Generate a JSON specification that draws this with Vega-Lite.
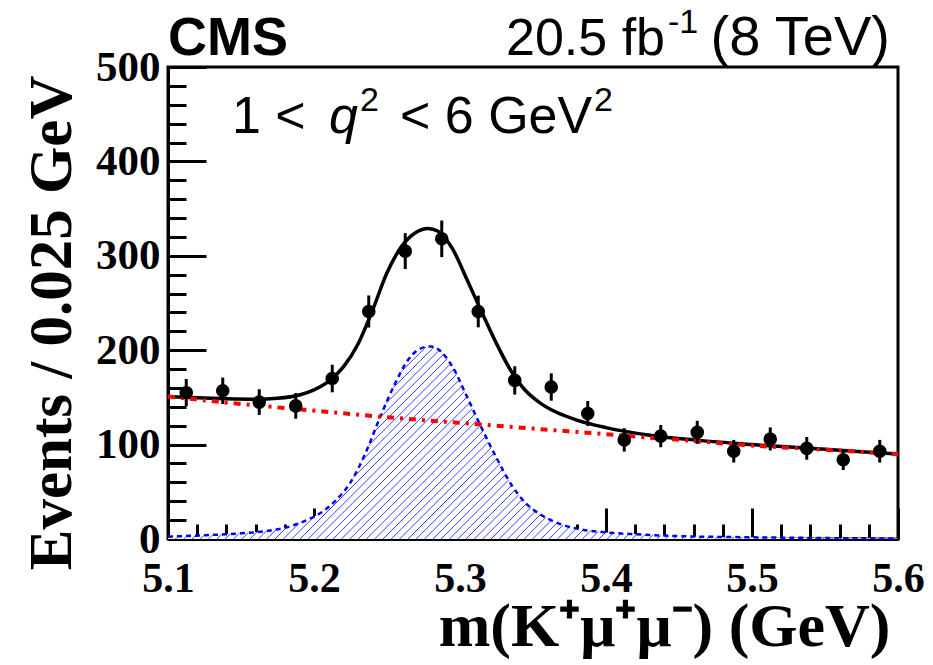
{
  "$schema": "https://vega.github.io/schema/vega-lite/v6.json",
  "width": 730,
  "height": 472,
  "autosize": "none",
  "padding": {"left": 168, "top": 67, "right": 35, "bottom": 126},
  "background": "white",
  "config": {"view": {"stroke": "black", "strokeWidth": 3}},
  "datasets": {
    "pts": [
      {"m": 5.1125, "v": 155, "lo": 140.5, "hi": 169.5},
      {"m": 5.1375, "v": 157, "lo": 143, "hi": 171},
      {"m": 5.1625, "v": 145, "lo": 131.4, "hi": 158.6},
      {"m": 5.1875, "v": 141, "lo": 127.4, "hi": 154.6},
      {"m": 5.2125, "v": 170, "lo": 155.4, "hi": 184.6},
      {"m": 5.2375, "v": 241, "lo": 224, "hi": 258},
      {"m": 5.2625, "v": 305, "lo": 286, "hi": 324},
      {"m": 5.2875, "v": 318, "lo": 298.6, "hi": 337.4},
      {"m": 5.3125, "v": 241, "lo": 224.2, "hi": 257.8},
      {"m": 5.3375, "v": 168, "lo": 153, "hi": 183},
      {"m": 5.3625, "v": 161, "lo": 146.5, "hi": 175.5},
      {"m": 5.3875, "v": 133, "lo": 119.8, "hi": 146.2},
      {"m": 5.4125, "v": 105, "lo": 92.6, "hi": 117.4},
      {"m": 5.4375, "v": 109, "lo": 97.2, "hi": 120.8},
      {"m": 5.4625, "v": 113, "lo": 100.8, "hi": 125.2},
      {"m": 5.4875, "v": 93, "lo": 81, "hi": 105},
      {"m": 5.5125, "v": 106, "lo": 93.8, "hi": 118.2},
      {"m": 5.5375, "v": 96, "lo": 84, "hi": 108},
      {"m": 5.5625, "v": 84, "lo": 73, "hi": 95},
      {"m": 5.5875, "v": 93, "lo": 81, "hi": 105}
    ],
    "sig": [
      {"m": 5.1, "v": 2.5}, {"m": 5.125, "v": 4}, {"m": 5.15, "v": 6}, {"m": 5.17, "v": 9},
      {"m": 5.185, "v": 14}, {"m": 5.195, "v": 20}, {"m": 5.205, "v": 28}, {"m": 5.215, "v": 41},
      {"m": 5.225, "v": 60}, {"m": 5.235, "v": 90}, {"m": 5.245, "v": 128}, {"m": 5.255, "v": 163},
      {"m": 5.265, "v": 191}, {"m": 5.275, "v": 203}, {"m": 5.28, "v": 204}, {"m": 5.285, "v": 201},
      {"m": 5.295, "v": 182}, {"m": 5.305, "v": 150}, {"m": 5.315, "v": 117}, {"m": 5.325, "v": 86},
      {"m": 5.335, "v": 58}, {"m": 5.345, "v": 38}, {"m": 5.355, "v": 26}, {"m": 5.365, "v": 18},
      {"m": 5.38, "v": 11}, {"m": 5.4, "v": 7}, {"m": 5.42, "v": 5}, {"m": 5.45, "v": 3},
      {"m": 5.5, "v": 1.8}, {"m": 5.55, "v": 1}, {"m": 5.6, "v": 0.5}
    ],
    "bkg": [
      {"m": 5.1, "v": 151}, {"m": 5.15, "v": 143}, {"m": 5.2, "v": 136}, {"m": 5.25, "v": 129},
      {"m": 5.3, "v": 123}, {"m": 5.35, "v": 117}, {"m": 5.4, "v": 111}, {"m": 5.45, "v": 105},
      {"m": 5.5, "v": 99}, {"m": 5.55, "v": 94.5}, {"m": 5.6, "v": 90}
    ],
    "tot": [
      {"m": 5.1, "v": 151}, {"m": 5.12, "v": 149.5}, {"m": 5.14, "v": 148.5}, {"m": 5.16, "v": 148},
      {"m": 5.175, "v": 149}, {"m": 5.19, "v": 152.5}, {"m": 5.2, "v": 158}, {"m": 5.21, "v": 167},
      {"m": 5.22, "v": 182}, {"m": 5.23, "v": 206}, {"m": 5.24, "v": 242}, {"m": 5.25, "v": 282},
      {"m": 5.26, "v": 310}, {"m": 5.27, "v": 325}, {"m": 5.278, "v": 329}, {"m": 5.285, "v": 326},
      {"m": 5.295, "v": 307}, {"m": 5.305, "v": 274}, {"m": 5.315, "v": 240}, {"m": 5.325, "v": 207},
      {"m": 5.335, "v": 178}, {"m": 5.345, "v": 157}, {"m": 5.355, "v": 144}, {"m": 5.365, "v": 135},
      {"m": 5.38, "v": 126}, {"m": 5.4, "v": 118}, {"m": 5.43, "v": 110}, {"m": 5.46, "v": 105},
      {"m": 5.5, "v": 100}, {"m": 5.55, "v": 95}, {"m": 5.6, "v": 90}
    ]
  },
  "layer": [
    {
      "data": {"name": "sig"},
      "mark": {
        "type": "area", "interpolate": "monotone", "fillOpacity": 1,
        "fill": {
          "gradient": "linear", "x1": 0, "y1": 0, "x2": 1.1818, "y2": 0.3124,
          "stops": [
            {"offset": 0, "color": "#fff"},
            {"offset": 0.198, "color": "#fff"}, {"offset": 0.199, "color": "#2233ff"}, {"offset": 0.2, "color": "#fff"},
            {"offset": 0.207, "color": "#fff"}, {"offset": 0.208, "color": "#2233ff"}, {"offset": 0.209, "color": "#fff"},
            {"offset": 0.216, "color": "#fff"}, {"offset": 0.217, "color": "#2233ff"}, {"offset": 0.218, "color": "#fff"},
            {"offset": 0.225, "color": "#fff"}, {"offset": 0.226, "color": "#2233ff"}, {"offset": 0.227, "color": "#fff"},
            {"offset": 0.234, "color": "#fff"}, {"offset": 0.235, "color": "#2233ff"}, {"offset": 0.236, "color": "#fff"},
            {"offset": 0.243, "color": "#fff"}, {"offset": 0.244, "color": "#2233ff"}, {"offset": 0.245, "color": "#fff"},
            {"offset": 0.252, "color": "#fff"}, {"offset": 0.253, "color": "#2233ff"}, {"offset": 0.254, "color": "#fff"},
            {"offset": 0.261, "color": "#fff"}, {"offset": 0.262, "color": "#2233ff"}, {"offset": 0.263, "color": "#fff"},
            {"offset": 0.27, "color": "#fff"}, {"offset": 0.271, "color": "#2233ff"}, {"offset": 0.272, "color": "#fff"},
            {"offset": 0.279, "color": "#fff"}, {"offset": 0.28, "color": "#2233ff"}, {"offset": 0.281, "color": "#fff"},
            {"offset": 0.288, "color": "#fff"}, {"offset": 0.289, "color": "#2233ff"}, {"offset": 0.29, "color": "#fff"},
            {"offset": 0.297, "color": "#fff"}, {"offset": 0.298, "color": "#2233ff"}, {"offset": 0.299, "color": "#fff"},
            {"offset": 0.306, "color": "#fff"}, {"offset": 0.307, "color": "#2233ff"}, {"offset": 0.308, "color": "#fff"},
            {"offset": 0.315, "color": "#fff"}, {"offset": 0.316, "color": "#2233ff"}, {"offset": 0.317, "color": "#fff"},
            {"offset": 0.324, "color": "#fff"}, {"offset": 0.325, "color": "#2233ff"}, {"offset": 0.326, "color": "#fff"},
            {"offset": 0.333, "color": "#fff"}, {"offset": 0.334, "color": "#2233ff"}, {"offset": 0.335, "color": "#fff"},
            {"offset": 0.342, "color": "#fff"}, {"offset": 0.343, "color": "#2233ff"}, {"offset": 0.344, "color": "#fff"},
            {"offset": 0.351, "color": "#fff"}, {"offset": 0.352, "color": "#2233ff"}, {"offset": 0.353, "color": "#fff"},
            {"offset": 0.36, "color": "#fff"}, {"offset": 0.361, "color": "#2233ff"}, {"offset": 0.362, "color": "#fff"},
            {"offset": 0.369, "color": "#fff"}, {"offset": 0.37, "color": "#2233ff"}, {"offset": 0.371, "color": "#fff"},
            {"offset": 0.378, "color": "#fff"}, {"offset": 0.379, "color": "#2233ff"}, {"offset": 0.38, "color": "#fff"},
            {"offset": 0.387, "color": "#fff"}, {"offset": 0.388, "color": "#2233ff"}, {"offset": 0.389, "color": "#fff"},
            {"offset": 0.396, "color": "#fff"}, {"offset": 0.397, "color": "#2233ff"}, {"offset": 0.398, "color": "#fff"},
            {"offset": 0.405, "color": "#fff"}, {"offset": 0.406, "color": "#2233ff"}, {"offset": 0.407, "color": "#fff"},
            {"offset": 0.414, "color": "#fff"}, {"offset": 0.415, "color": "#2233ff"}, {"offset": 0.416, "color": "#fff"},
            {"offset": 0.423, "color": "#fff"}, {"offset": 0.424, "color": "#2233ff"}, {"offset": 0.425, "color": "#fff"},
            {"offset": 0.432, "color": "#fff"}, {"offset": 0.433, "color": "#2233ff"}, {"offset": 0.434, "color": "#fff"},
            {"offset": 0.441, "color": "#fff"}, {"offset": 0.442, "color": "#2233ff"}, {"offset": 0.443, "color": "#fff"},
            {"offset": 0.45, "color": "#fff"}, {"offset": 0.451, "color": "#2233ff"}, {"offset": 0.452, "color": "#fff"},
            {"offset": 0.459, "color": "#fff"}, {"offset": 0.46, "color": "#2233ff"}, {"offset": 0.461, "color": "#fff"},
            {"offset": 0.468, "color": "#fff"}, {"offset": 0.469, "color": "#2233ff"}, {"offset": 0.47, "color": "#fff"},
            {"offset": 0.477, "color": "#fff"}, {"offset": 0.478, "color": "#2233ff"}, {"offset": 0.479, "color": "#fff"},
            {"offset": 0.486, "color": "#fff"}, {"offset": 0.487, "color": "#2233ff"}, {"offset": 0.488, "color": "#fff"},
            {"offset": 0.495, "color": "#fff"}, {"offset": 0.496, "color": "#2233ff"}, {"offset": 0.497, "color": "#fff"},
            {"offset": 0.504, "color": "#fff"}, {"offset": 0.505, "color": "#2233ff"}, {"offset": 0.506, "color": "#fff"},
            {"offset": 0.513, "color": "#fff"}, {"offset": 0.514, "color": "#2233ff"}, {"offset": 0.515, "color": "#fff"},
            {"offset": 0.522, "color": "#fff"}, {"offset": 0.523, "color": "#2233ff"}, {"offset": 0.524, "color": "#fff"},
            {"offset": 0.531, "color": "#fff"}, {"offset": 0.532, "color": "#2233ff"}, {"offset": 0.533, "color": "#fff"},
            {"offset": 0.54, "color": "#fff"}, {"offset": 0.541, "color": "#2233ff"}, {"offset": 0.542, "color": "#fff"},
            {"offset": 0.549, "color": "#fff"}, {"offset": 0.55, "color": "#2233ff"}, {"offset": 0.551, "color": "#fff"},
            {"offset": 0.558, "color": "#fff"}, {"offset": 0.559, "color": "#2233ff"}, {"offset": 0.56, "color": "#fff"},
            {"offset": 0.567, "color": "#fff"}, {"offset": 0.568, "color": "#2233ff"}, {"offset": 0.569, "color": "#fff"},
            {"offset": 0.576, "color": "#fff"}, {"offset": 0.577, "color": "#2233ff"}, {"offset": 0.578, "color": "#fff"},
            {"offset": 0.585, "color": "#fff"}, {"offset": 0.586, "color": "#2233ff"}, {"offset": 0.587, "color": "#fff"},
            {"offset": 0.594, "color": "#fff"}, {"offset": 0.595, "color": "#2233ff"}, {"offset": 0.596, "color": "#fff"},
            {"offset": 0.603, "color": "#fff"}, {"offset": 0.604, "color": "#2233ff"}, {"offset": 0.605, "color": "#fff"},
            {"offset": 0.612, "color": "#fff"}, {"offset": 0.613, "color": "#2233ff"}, {"offset": 0.614, "color": "#fff"},
            {"offset": 0.621, "color": "#fff"}, {"offset": 0.622, "color": "#2233ff"}, {"offset": 0.623, "color": "#fff"},
            {"offset": 0.63, "color": "#fff"}, {"offset": 0.631, "color": "#2233ff"}, {"offset": 0.632, "color": "#fff"},
            {"offset": 0.639, "color": "#fff"}, {"offset": 0.64, "color": "#2233ff"}, {"offset": 0.641, "color": "#fff"},
            {"offset": 0.648, "color": "#fff"}, {"offset": 0.649, "color": "#2233ff"}, {"offset": 0.65, "color": "#fff"},
            {"offset": 0.657, "color": "#fff"}, {"offset": 0.658, "color": "#2233ff"}, {"offset": 0.659, "color": "#fff"},
            {"offset": 0.666, "color": "#fff"}, {"offset": 0.667, "color": "#2233ff"}, {"offset": 0.668, "color": "#fff"},
            {"offset": 0.675, "color": "#fff"}, {"offset": 0.676, "color": "#2233ff"}, {"offset": 0.677, "color": "#fff"},
            {"offset": 0.684, "color": "#fff"}, {"offset": 0.685, "color": "#2233ff"}, {"offset": 0.686, "color": "#fff"},
            {"offset": 0.693, "color": "#fff"}, {"offset": 0.694, "color": "#2233ff"}, {"offset": 0.695, "color": "#fff"},
            {"offset": 0.702, "color": "#fff"}, {"offset": 0.703, "color": "#2233ff"}, {"offset": 0.704, "color": "#fff"},
            {"offset": 0.711, "color": "#fff"}, {"offset": 0.712, "color": "#2233ff"}, {"offset": 0.713, "color": "#fff"},
            {"offset": 0.72, "color": "#fff"}, {"offset": 0.721, "color": "#2233ff"}, {"offset": 0.722, "color": "#fff"},
            {"offset": 0.729, "color": "#fff"}, {"offset": 0.73, "color": "#2233ff"}, {"offset": 0.731, "color": "#fff"},
            {"offset": 0.738, "color": "#fff"}, {"offset": 0.739, "color": "#2233ff"}, {"offset": 0.74, "color": "#fff"},
            {"offset": 0.747, "color": "#fff"}, {"offset": 0.748, "color": "#2233ff"}, {"offset": 0.749, "color": "#fff"},
            {"offset": 0.756, "color": "#fff"}, {"offset": 0.757, "color": "#2233ff"}, {"offset": 0.758, "color": "#fff"},
            {"offset": 0.765, "color": "#fff"}, {"offset": 0.766, "color": "#2233ff"}, {"offset": 0.767, "color": "#fff"},
            {"offset": 0.774, "color": "#fff"}, {"offset": 0.775, "color": "#2233ff"}, {"offset": 0.776, "color": "#fff"},
            {"offset": 0.783, "color": "#fff"}, {"offset": 0.784, "color": "#2233ff"}, {"offset": 0.785, "color": "#fff"},
            {"offset": 0.792, "color": "#fff"}, {"offset": 0.793, "color": "#2233ff"}, {"offset": 0.794, "color": "#fff"},
            {"offset": 0.801, "color": "#fff"}, {"offset": 0.802, "color": "#2233ff"}, {"offset": 0.803, "color": "#fff"},
            {"offset": 0.81, "color": "#fff"}, {"offset": 0.811, "color": "#2233ff"}, {"offset": 0.812, "color": "#fff"},
            {"offset": 0.819, "color": "#fff"}, {"offset": 0.82, "color": "#2233ff"}, {"offset": 0.821, "color": "#fff"},
            {"offset": 0.828, "color": "#fff"}, {"offset": 0.829, "color": "#2233ff"}, {"offset": 0.83, "color": "#fff"},
            {"offset": 0.837, "color": "#fff"}, {"offset": 0.838, "color": "#2233ff"}, {"offset": 0.839, "color": "#fff"},
            {"offset": 0.846, "color": "#fff"}, {"offset": 0.847, "color": "#2233ff"}, {"offset": 0.848, "color": "#fff"},
            {"offset": 0.855, "color": "#fff"}, {"offset": 0.856, "color": "#2233ff"}, {"offset": 0.857, "color": "#fff"},
            {"offset": 0.864, "color": "#fff"}, {"offset": 0.865, "color": "#2233ff"}, {"offset": 0.866, "color": "#fff"},
            {"offset": 0.873, "color": "#fff"}, {"offset": 0.874, "color": "#2233ff"}, {"offset": 0.875, "color": "#fff"},
            {"offset": 0.882, "color": "#fff"}, {"offset": 0.883, "color": "#2233ff"}, {"offset": 0.884, "color": "#fff"},
            {"offset": 0.891, "color": "#fff"}, {"offset": 0.892, "color": "#2233ff"}, {"offset": 0.893, "color": "#fff"},
            {"offset": 0.9, "color": "#fff"}, {"offset": 0.901, "color": "#2233ff"}, {"offset": 0.902, "color": "#fff"},
            {"offset": 0.909, "color": "#fff"}, {"offset": 0.91, "color": "#2233ff"}, {"offset": 0.911, "color": "#fff"},
            {"offset": 0.918, "color": "#fff"}, {"offset": 0.919, "color": "#2233ff"}, {"offset": 0.92, "color": "#fff"},
            {"offset": 0.927, "color": "#fff"}, {"offset": 0.928, "color": "#2233ff"}, {"offset": 0.929, "color": "#fff"},
            {"offset": 0.936, "color": "#fff"}, {"offset": 0.937, "color": "#2233ff"}, {"offset": 0.938, "color": "#fff"},
            {"offset": 0.945, "color": "#fff"}, {"offset": 0.946, "color": "#2233ff"}, {"offset": 0.947, "color": "#fff"},
            {"offset": 0.954, "color": "#fff"}, {"offset": 0.955, "color": "#2233ff"}, {"offset": 0.956, "color": "#fff"},
            {"offset": 0.963, "color": "#fff"}, {"offset": 0.964, "color": "#2233ff"}, {"offset": 0.965, "color": "#fff"},
            {"offset": 0.972, "color": "#fff"}, {"offset": 0.973, "color": "#2233ff"}, {"offset": 0.974, "color": "#fff"},
            {"offset": 0.981, "color": "#fff"}, {"offset": 0.982, "color": "#2233ff"}, {"offset": 0.983, "color": "#fff"},
            {"offset": 0.99, "color": "#fff"}, {"offset": 0.991, "color": "#2233ff"}, {"offset": 0.992, "color": "#fff"},
            {"offset": 1, "color": "#fff"}
          ]
        }
      },
      "encoding": {
        "x": {
          "field": "m", "type": "quantitative",
          "scale": {"domain": [5.1, 5.6], "nice": false, "zero": false},
          "axis": {
            "title": "m(K⁺μ⁺μ⁻) (GeV)",
            "values": [5.1, 5.12, 5.14, 5.16, 5.18, 5.2, 5.22, 5.24, 5.26, 5.28, 5.3, 5.32, 5.34, 5.36, 5.38, 5.4, 5.42, 5.44, 5.46, 5.48, 5.5, 5.52, 5.54, 5.56, 5.58, 5.6],
            "tickCount": 40,
            "format": ".1f",
            "labelExpr": "abs(datum.value*10-round(datum.value*10))<0.001 ? datum.label : ''",
            "tickSize": {"condition": {"test": "abs(datum.value*10-round(datum.value*10))<0.001", "value": -31}, "value": -15},
            "tickColor": "black", "tickWidth": 3,
            "domainColor": "black", "domainWidth": 3,
            "grid": false,
            "labelFont": "Liberation Serif", "labelFontWeight": "bold", "labelFontSize": 42, "labelColor": "black",
            "labelPadding": 50, "labelFlush": false, "labelOverlap": false,
            "titleFont": "Liberation Serif", "titleFontWeight": "bold", "titleFontSize": 62, "titleColor": "black",
            "titleAnchor": "end", "titleAlign": "right", "titleBaseline": "alphabetic", "titleX": 722, "titleY": 106
          }
        },
        "y": {
          "field": "v", "type": "quantitative",
          "scale": {"domain": [0, 500], "nice": false},
          "axis": {
            "title": "Events / 0.025 GeV",
            "values": [0, 20, 40, 60, 80, 100, 120, 140, 160, 180, 200, 220, 240, 260, 280, 300, 320, 340, 360, 380, 400, 420, 440, 460, 480, 500],
            "tickCount": 40,
            "labelExpr": "datum.value % 100 === 0 ? datum.label : ''",
            "tickSize": {"condition": {"test": "datum.value % 100 === 0", "value": -38}, "value": -18},
            "tickColor": "black", "tickWidth": 3,
            "domainColor": "black", "domainWidth": 3,
            "grid": false,
            "labelFont": "Liberation Serif", "labelFontWeight": "bold", "labelFontSize": 43, "labelColor": "black",
            "labelPadding": 46, "labelFlush": false, "labelOverlap": false,
            "titleFont": "Liberation Serif", "titleFontWeight": "bold", "titleFontSize": 61, "titleColor": "black",
            "titleAnchor": "end", "titleAlign": "right", "titleBaseline": "alphabetic", "titleAngle": -90, "titleX": -98, "titleY": 8
          }
        }
      }
    },
    {
      "data": {"name": "sig"},
      "mark": {"type": "line", "color": "#0000ff", "strokeWidth": 2.5, "strokeDash": [5, 4], "interpolate": "monotone"},
      "encoding": {"x": {"field": "m", "type": "quantitative"}, "y": {"field": "v", "type": "quantitative"}}
    },
    {
      "data": {"name": "tot"},
      "mark": {"type": "line", "color": "black", "strokeWidth": 3.5, "interpolate": "monotone"},
      "encoding": {"x": {"field": "m", "type": "quantitative"}, "y": {"field": "v", "type": "quantitative"}}
    },
    {
      "data": {"name": "bkg"},
      "mark": {"type": "line", "color": "#ff0000", "strokeWidth": 4, "strokeDash": [7, 6, 3, 6], "interpolate": "monotone"},
      "encoding": {"x": {"field": "m", "type": "quantitative"}, "y": {"field": "v", "type": "quantitative"}}
    },
    {
      "data": {"name": "pts"},
      "mark": {"type": "rule", "color": "black", "strokeWidth": 3},
      "encoding": {"x": {"field": "m", "type": "quantitative"}, "y": {"field": "lo", "type": "quantitative"}, "y2": {"field": "hi"}}
    },
    {
      "data": {"name": "pts"},
      "mark": {"type": "point", "filled": true, "color": "black", "opacity": 1, "size": 185, "shape": "circle"},
      "encoding": {"x": {"field": "m", "type": "quantitative"}, "y": {"field": "v", "type": "quantitative"}}
    },
    {
      "data": {"values": [{}]},
      "mark": {"type": "text", "text": "CMS", "font": "Liberation Sans", "fontWeight": "bold", "fontSize": 54, "align": "left", "baseline": "alphabetic", "color": "black"},
      "encoding": {"x": {"datum": 5.1}, "y": {"datum": 513}}
    },
    {
      "data": {"values": [{}]},
      "mark": {"type": "text", "text": "20.5 fb", "font": "Liberation Sans", "fontSize": 52, "align": "left", "baseline": "alphabetic", "color": "black"},
      "encoding": {"x": {"datum": 5.3315}, "y": {"datum": 513}}
    },
    {
      "data": {"values": [{}]},
      "mark": {"type": "text", "text": "-1", "font": "Liberation Sans", "fontSize": 34, "align": "left", "baseline": "alphabetic", "color": "black", "dx": 162, "dy": -22},
      "encoding": {"x": {"datum": 5.3315}, "y": {"datum": 513}}
    },
    {
      "data": {"values": [{}]},
      "mark": {"type": "text", "text": "(8 TeV)", "font": "Liberation Sans", "fontSize": 56, "align": "right", "baseline": "alphabetic", "color": "black"},
      "encoding": {"x": {"datum": 5.5945}, "y": {"datum": 513}}
    },
    {
      "data": {"values": [{}]},
      "mark": {"type": "text", "text": "1 <", "font": "Liberation Sans", "fontSize": 52, "align": "left", "baseline": "alphabetic", "color": "black"},
      "encoding": {"x": {"datum": 5.1438}, "y": {"datum": 430}}
    },
    {
      "data": {"values": [{}]},
      "mark": {"type": "text", "text": "q", "font": "Liberation Sans", "fontStyle": "italic", "fontSize": 52, "align": "left", "baseline": "alphabetic", "color": "black", "dx": 97},
      "encoding": {"x": {"datum": 5.1438}, "y": {"datum": 430}}
    },
    {
      "data": {"values": [{}]},
      "mark": {"type": "text", "text": "2", "font": "Liberation Sans", "fontSize": 34, "align": "left", "baseline": "alphabetic", "color": "black", "dx": 128, "dy": -22},
      "encoding": {"x": {"datum": 5.1438}, "y": {"datum": 430}}
    },
    {
      "data": {"values": [{}]},
      "mark": {"type": "text", "text": "< 6 GeV", "font": "Liberation Sans", "fontSize": 52, "align": "left", "baseline": "alphabetic", "color": "black", "dx": 168},
      "encoding": {"x": {"datum": 5.1438}, "y": {"datum": 430}}
    },
    {
      "data": {"values": [{}]},
      "mark": {"type": "text", "text": "2", "font": "Liberation Sans", "fontSize": 34, "align": "left", "baseline": "alphabetic", "color": "black", "dx": 362, "dy": -22},
      "encoding": {"x": {"datum": 5.1438}, "y": {"datum": 430}}
    }
  ]
}
